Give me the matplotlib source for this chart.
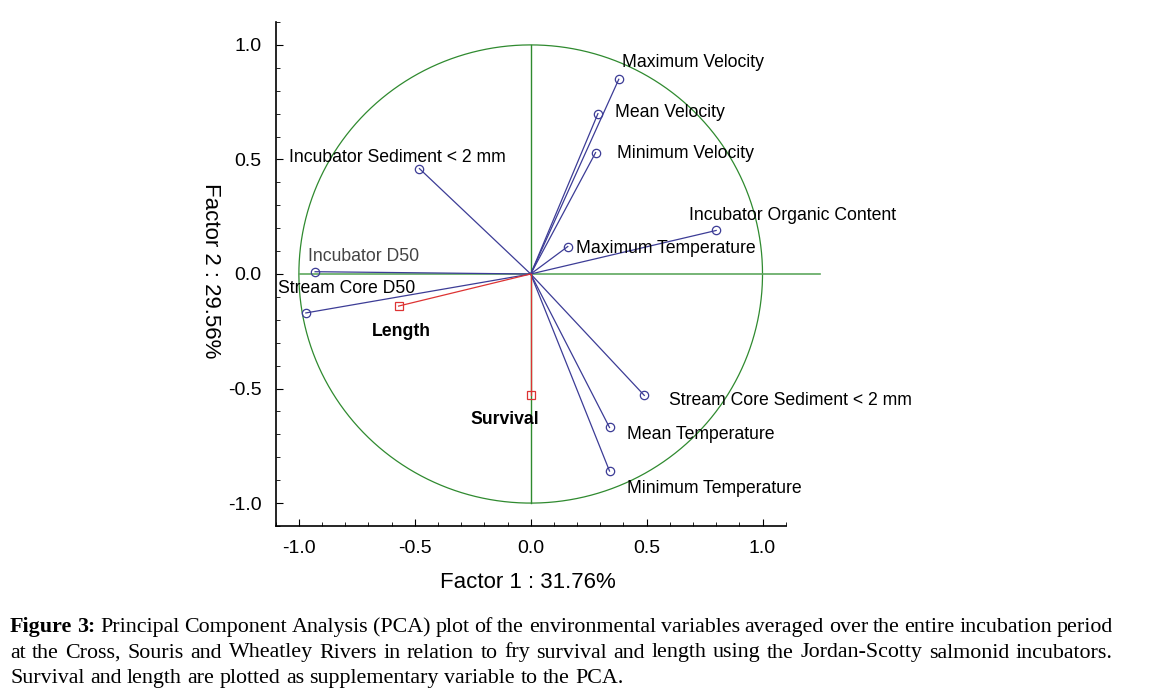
import numpy as np
import matplotlib
matplotlib.use("Agg")
from matplotlib import pyplot as plt
from matplotlib.ticker import MultipleLocator

# ============================================================================
# Data: PCA loadings
# ============================================================================

variables = [
    "Maximum Velocity",
    "Mean Velocity",
    "Minimum Velocity",
    "Incubator Organic Content",
    "Maximum Temperature",
    "Incubator Sediment < 2 mm",
    "Incubator D50",
    "Stream Core D50",
    "Stream Core Sediment < 2 mm",
    "Mean Temperature",
    "Minimum Temperature",
]
factor1 = [0.38, 0.29, 0.28, 0.80, 0.16, -0.48, -0.93, -0.97, 0.49, 0.34, 0.34]
factor2 = [0.85, 0.70, 0.53, 0.19, 0.12, 0.46, 0.01, -0.17, -0.53, -0.67, -0.86]

# supplementary variables
supp_names = ["Length", "Survival"]
supp_f1 = [-0.57, 0.0]
supp_f2 = [-0.14, -0.53]

xlabel = "Factor 1 : 31.76%"
ylabel = "Factor 2 : 29.56%"

caption_lines = [
    "Principal Component Analysis (PCA) plot of the environmental variables "
    "averaged over the entire incubation period",
    "at the Cross, Souris and Wheatley Rivers in relation to fry survival and "
    "length using the Jordan-Scotty salmonid incubators.",
    "Survival and length are plotted as supplementary variable to the PCA.",
]

# label placement (data coords) and alignment
label_pos = {
    "Maximum Velocity": (0.392, 0.922),
    "Mean Velocity": (0.365, 0.704),
    "Minimum Velocity": (0.371, 0.525),
    "Incubator Organic Content": (0.681, 0.254),
    "Maximum Temperature": (0.197, 0.113),
    "Incubator Sediment < 2 mm": (-1.043, 0.508),
    "Incubator D50": (-0.961, 0.075),
    "Stream Core D50": (-1.092, -0.063),
    "Stream Core Sediment < 2 mm": (0.595, -0.552),
    "Mean Temperature": (0.417, -0.702),
    "Minimum Temperature": (0.415, -0.937),
}
supp_label_pos = {"Length": (-0.56, -0.251), "Survival": (-0.112, -0.635)}

# ============================================================================
# Figure
# ============================================================================

plt.rcParams["font.family"] = ["Liberation Sans", "DejaVu Sans"]

W, H = 1174, 696
fig = plt.figure(figsize=(W / 100, H / 100), dpi=100)
ax = fig.add_axes([275.7 / W, 1 - 526 / H, 510 / W, 504 / H])

blue = "#3c3c96"
red = "#dd3333"
green = "#2f8a2f"

# unit circle and axes cross
theta = np.linspace(0, 2 * np.pi, 400)
ax.plot(np.cos(theta), np.sin(theta), color=green, lw=0.9, zorder=1)
ax.plot([-1.0, 1.25], [0, 0], color="#5fa85f", lw=1.2, clip_on=False, zorder=1)
ax.plot([0, 0], [-1.0, 1.0], color=green, lw=1.0, zorder=1)

for name, x, y in zip(variables, factor1, factor2):
    ax.plot([0, x], [0, y], color=blue, lw=0.9, zorder=2)
    ax.plot(x, y, "o", mfc="none", mec=blue, ms=6, mew=0.9, zorder=3)
    lx, ly = label_pos[name]
    col = "#444444" if name == "Incubator D50" else "black"
    ax.text(lx, ly, name, fontsize=12.7, color=col, ha="left", va="center",
            zorder=4)

for name, x, y in zip(supp_names, supp_f1, supp_f2):
    ax.plot([0, x], [0, y], color=red, lw=0.9, zorder=2)
    ax.plot(x, y, "s", mfc="none", mec=red, ms=6, mew=0.9, zorder=3)
    lx, ly = supp_label_pos[name]
    ax.text(lx, ly, name, fontsize=12.7, fontweight="bold", ha="center",
            va="center", zorder=4)

ax.set_xlim(-1.1, 1.1)
ax.set_ylim(-1.1, 1.1)
ax.xaxis.set_major_locator(MultipleLocator(0.5))
ax.yaxis.set_major_locator(MultipleLocator(0.5))
ax.xaxis.set_minor_locator(MultipleLocator(0.1))
ax.yaxis.set_minor_locator(MultipleLocator(0.1))
ax.xaxis.set_major_formatter(lambda v, p: f"{v:.1f}")
ax.yaxis.set_major_formatter(lambda v, p: f"{v:.1f}")
ax.tick_params(which="major", direction="in", length=5, labelsize=14,
               pad=10)
ax.tick_params(which="minor", direction="in", length=3)
for side in ["top", "right"]:
    ax.spines[side].set_visible(False)
for side in ["left", "bottom"]:
    ax.spines[side].set_linewidth(1.2)

fig.text(528 / W, 1 - 583 / H, xlabel, fontsize=16, ha="center",
         va="center")
fig.text(210 / W, 1 - 271 / H, ylabel, fontsize=16, ha="center",
         va="center", rotation=270)

# ============================================================================
# Caption, justified by hand word by word
# ============================================================================

renderer = fig.canvas.get_renderer()
cap_kw = dict(family=["Liberation Serif", "DejaVu Serif"], fontsize=15.8,
              va="baseline", ha="left")


def place_line(words, y_px, x0, x1, justify):
    texts = [fig.text(0, 1 - y_px / H, w, fontweight=wt, **cap_kw)
             for w, wt in words]
    widths = [t.get_window_extent(renderer).width for t in texts]
    if justify:
        gap = (x1 - x0 - sum(widths)) / (len(words) - 1)
    else:
        a = fig.text(0, 0, "a a", **cap_kw)
        b = fig.text(0, 0, "aa", **cap_kw)
        gap = (a.get_window_extent(renderer).width
               - b.get_window_extent(renderer).width)
        a.remove()
        b.remove()
    x = x0
    for t, w in zip(texts, widths):
        t.set_x(x / W)
        x += w + gap


line1 = [("Figure", "bold"), ("3:", "bold")] + \
    [(w, "normal") for w in caption_lines[0].split()]
line2 = [(w, "normal") for w in caption_lines[1].split()]
line3 = [(w, "normal") for w in caption_lines[2].split()]
place_line(line1, 632, 10, 1113, True)
place_line(line2, 657.5, 10, 1113, True)
place_line(line3, 683, 10, 1113, False)

fig.savefig("out.png", dpi=100)
